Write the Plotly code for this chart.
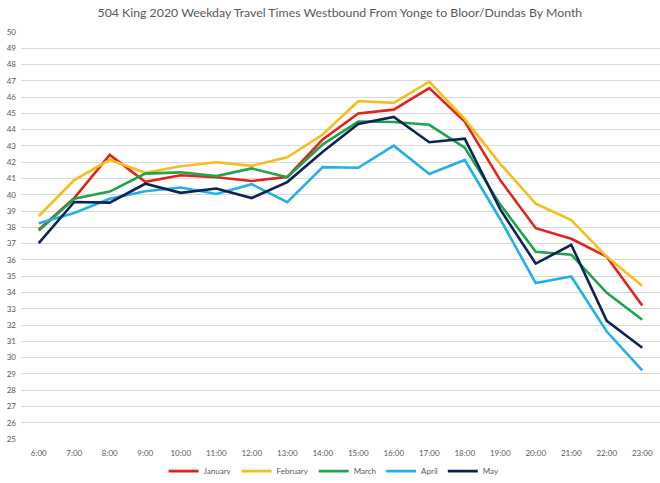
import plotly.graph_objects as go

hours = ["6:00", "7:00", "8:00", "9:00", "10:00", "11:00", "12:00", "13:00", "14:00",
         "15:00", "16:00", "17:00", "18:00", "19:00", "20:00", "21:00", "22:00", "23:00"]

january = [37.85, 39.8, 42.45, 40.8, 41.2, 41.08, 40.85, 41.1, 43.4, 45.0, 45.23, 46.55,
           44.5, 40.9, 37.95, 37.3, 36.2, 33.2]
february = [38.7, 40.9, 42.15, 41.35, 41.75, 42.0, 41.78, 42.3, 43.7, 45.75, 45.65, 46.95,
            44.65, 41.9, 39.45, 38.45, 36.2, 34.42]
march = [37.8, 39.76, 40.2, 41.3, 41.38, 41.15, 41.62, 41.08, 43.1, 44.5, 44.47, 44.3,
         42.9, 39.4, 36.5, 36.32, 33.98, 32.33]
april = [38.25, 38.88, 39.76, 40.22, 40.45, 40.05, 40.65, 39.55, 41.7, 41.66, 43.02, 41.28,
         42.14, 38.5, 34.58, 34.98, 31.6, 29.22]
may = [37.03, 39.56, 39.52, 40.68, 40.12, 40.39, 39.8, 40.78, 42.65, 44.35, 44.78, 43.23,
       43.45, 39.1, 35.77, 36.93, 32.26, 30.6]

series_names = ["January", "February", "March", "April", "May"]
series_values = [january, february, march, april, may]
series_colors = ["#E2231A", "#F6BE1B", "#1EA44B", "#23B0E6", "#0D2357"]

y_ticks = list(range(25, 51))

fig = go.Figure()
for name, vals, col in zip(series_names, series_values, series_colors):
    fig.add_trace(go.Scatter(x=hours, y=vals, mode="lines", name=name,
                             line=dict(color=col, width=2.6)))

fig.update_layout(
    width=660, height=483,
    margin=dict(l=21, r=0, t=32, b=44, autoexpand=False),
    paper_bgcolor="white", plot_bgcolor="white",
    font=dict(family="Lato", color="#595959", size=8),
    title=dict(text="504 King 2020 Weekday Travel Times Westbound From Yonge to Bloor/Dundas By Month",
               x=0.515, xanchor="center", y=0.973, yanchor="middle",
               font=dict(family="Lato", size=12.3, color="#595959")),
    showlegend=True,
    legend=dict(orientation="h", x=0.49, xanchor="center", y=-0.079, yanchor="middle",
                font=dict(size=8, color="#595959"), itemwidth=30, tracegroupgap=0),
)
fig.update_xaxes(type="category", categoryorder="array", categoryarray=hours,
                 range=[-0.5, 17.5], showgrid=False, zeroline=False, showline=False,
                 ticks="", tickfont=dict(size=8, color="#595959"), ticklabelstandoff=8)
fig.update_yaxes(range=[25, 50], tickvals=y_ticks, showgrid=True, gridcolor="#D9D9D9",
                 gridwidth=1, zeroline=False, showline=False, ticks="",
                 tickfont=dict(size=8, color="#595959"), ticklabelstandoff=4)

fig.write_html("out.html", config={"displayModeBar": False},
               post_script="document.body.style.margin='0px';")
